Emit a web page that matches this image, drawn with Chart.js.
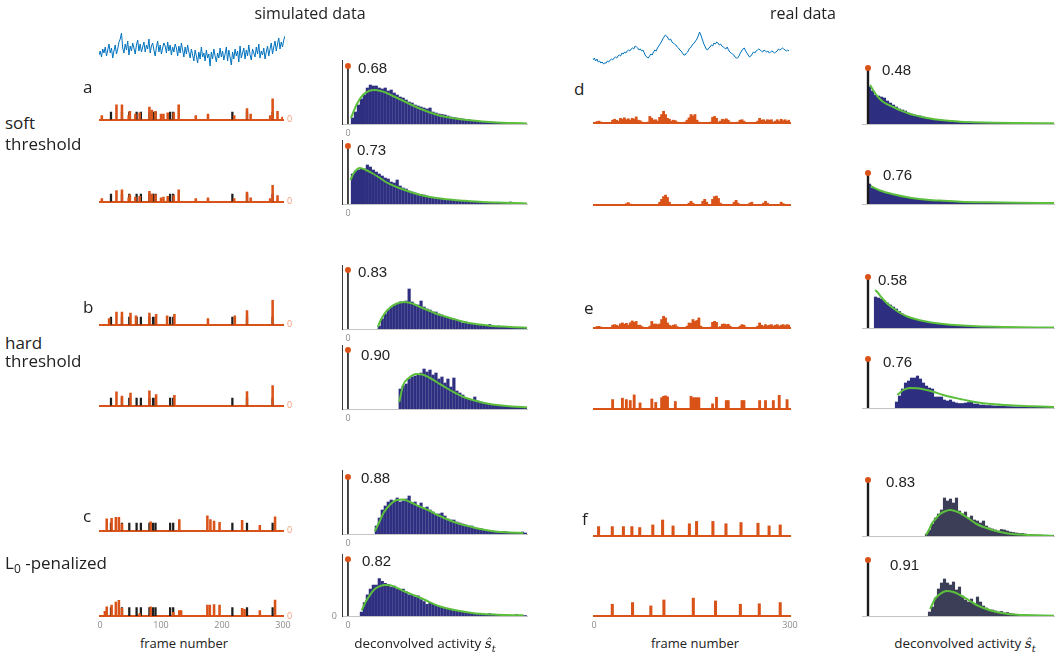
<!DOCTYPE html>
<html>
<head>
<meta charset="utf-8">
<title>Deconvolution: simulated vs real data</title>
<script src="https://cdn.jsdelivr.net/npm/chart.js@4.4.0/dist/chart.umd.min.js"></script>
<style>
  body { margin: 0; background: #fff; }
  #fig { position: relative; width: 1063px; height: 655px; overflow: hidden; font-family: 'Open Sans', sans-serif; color: #222; }
  #fig canvas { position: absolute; }
  .t { position: absolute; white-space: nowrap; }
  .v { font-family: 'Liberation Sans', Arial, sans-serif; }
  .m { font-family: 'DejaVu Serif', serif; font-style: italic; }
</style>
</head>
<body>
<div id="fig"></div>
<script>
// ---- traces (calcium fluorescence) ----
var simBlue = [15,19,13,21,17,23,14,20,26,17,22,12,19,25,16,21,28,31,37,22,17,26,20,29,15,24,19,27,22,16,25,30,19,26,18,23,28,18,25,21,31,17,24,27,20,14,23,29,18,25,16,22,27,24,17,28,19,25,15,23,18,26,22,14,24,17,27,20,13,23,16,25,18,12,21,15,9,20,14,7,18,11,23,13,17,9,20,12,16,4,18,11,21,14,8,17,12,22,13,19,10,16,23,9,20,13,5,18,11,21,14,19,8,24,12,17,22,11,20,14,25,15,10,21,17,13,23,16,26,12,19,15,22,11,18,24,14,21,27,16,23,29,19,26,32,21,28,23,30,34];
var realBlue = [10,12,9,11,8,9,7,8,6,7, 7,9,8,10,11,10,12,13,12,14, 15,14,17,16,18,17,19,20,19,21, 22,21,24,23,22,20,21,19,20,17, 14,13,12,14,16,15,18,20,19,22, 24,26,28,31,33,35,34,32,30,31, 28,27,26,25,23,22,20,19,17,15, 15,17,18,21,22,24,26,27,29,31, 34,38,35,31,27,24,21,20,22,23, 25,24,27,26,28,27,25,26,24,23, 22,21,23,20,18,17,16,15,13,12, 12,14,17,19,21,22,19,17,15,13, 14,16,18,17,19,20,21,20,19,18, 20,19,18,19,17,18,19,18,17,18, 19,21,20,21,22,21,20,19,20,19];

// ---- spike trains: [frame, amplitude] ----
var trueSpikes = [[18,1],[36,1],[48,1],[60,1],[67,1],[81,1],[87,1],[91,1],[115,1],[120,1],[217,1],[241,1],[283,1]];
var simA1 = [[3,0.55],[27,2.0],[36,2.0],[47,0.55],[49,1.1],[58,0.75],[65,0.9],[81,1.7],[85,1.3],[91,1.1],[100,0.75],[104,0.75],[111,0.9],[121,0.9],[129,2.0],[157,0.55],[177,0.75],[220,0.55],[241,1.5],[247,0.75],[279,0.55],[283,2.8],[291,1.1],[299,0.35]];
var simA2 = [[3,0.4],[27,1.5],[36,1.6],[47,0.5],[49,0.9],[58,0.6],[65,0.7],[81,1.4],[85,1.0],[91,0.9],[100,0.5],[104,0.6],[111,0.7],[121,0.8],[129,1.6],[157,0.4],[177,0.5],[220,0.4],[241,1.3],[247,0.5],[279,0.4],[283,2.2],[291,0.8]];
var simB1 = [[15,0.8],[27,1.7],[36,1.7],[50,1.55],[59,1.2],[81,1.55],[92,1.4],[110,1.2],[122,1.4],[177,0.8],[221,1.2],[241,1.9],[283,3.3]];
var simB2 = [[27,1.85],[36,1.3],[50,1.7],[81,2.0],[92,1.5],[122,1.4],[241,1.9],[283,2.7]];
var simC1 = [[11,1.6],[19,1.65],[26,1.8],[31,1.8],[36,0.9],[83,1.2],[130,1.5],[176,2.0],[181,1.5],[187,1.3],[196,1.1],[233,1.4],[262,0.7],[287,1.85]];
var simC2 = [[8,0.55],[11,1.1],[19,1.3],[26,1.65],[31,1.85],[36,0.9],[65,0.3],[83,1.1],[120,0.45],[130,0.65],[133,0.65],[176,1.3],[180,1.3],[187,1.37],[196,1.3],[233,0.9],[237,0.8],[262,0.65],[287,1.9]];

// real data, one value per 3 frames
var realD1 = [0,0.15,0.2,0.1,0,0,0,0,0.05,0.3, 0.4,0.3,0.2,0.5,0.4,0.55,0.35,0.45,0.3,0.5, 0.4,0.65,0.3,0.25,0.1,0,0,0.1,0.7,0.5, 0.3,0.35,0.2,0.6,0.9,1.25,0.9,0.5,0.4,0.2, 0.3,0.25,0.1,0,0,0,0.1,0.3,0.55,0.9, 0.75,0.9,0.3,0.1,0,0,0,0,0,0.1, 0.6,0.7,0.5,0.1,0.2,0.4,0.35,0.45,0.3,0.1, 0,0,0,0.1,0.3,0.35,0.2,0,0,0, 0,0,0.05,0.2,0.5,0.3,0.35,0.2,0.35,0.3, 0.35,0.1,0.2,0.35,0.2,0.4,0.25,0.35,0.2,0.3];
var realD2 = [0,0,0,0,0,0,0,0,0,0, 0,0,0,0,0,0,0.15,0.25,0.1,0, 0,0,0,0,0,0,0,0,0,0, 0,0,0,0.3,0.6,0.9,1.05,0.8,0.3,0, 0,0,0,0,0,0,0,0,0.2,0.4, 0.2,0,0,0,0,0.4,0.6,0.3,0,0, 0.6,0.9,0.95,0.7,0.2,0,0,0,0,0, 0,0.3,0.5,0.2,0,0,0,0,0,0.2, 0.3,0,0,0,0,0,0.2,0.4,0.2,0, 0,0,0,0,0,0.3,0.15,0,0,0];
var realE1 = [0,0.15,0.18,0.1,0,0,0,0,0.05,0.3, 0.36,0.3,0.2,0.45,0.54,0.4,0.5,0.3,0.55,0.75, 0.6,0.7,0.3,0.3,0.15,0,0,0.05,0.2,0.7, 0.4,0.43,0.35,0.43,0.9,1.25,1.07,0.54,0.3,0.2, 0.3,0.36,0.15,0,0,0,0.05,0.2,0.54,0.5, 0.9,0.7,0.8,1.07,0.2,0,0,0,0,0.1, 0.6,0.71,0.6,0.1,0.15,0.4,0.43,0.35,0.4,0.2, 0.05,0,0,0.05,0.2,0.36,0.3,0.1,0,0, 0,0,0.05,0.2,0.54,0.3,0.2,0.36,0.25,0.3, 0.36,0.2,0.3,0.36,0.2,0.3,0.36,0.25,0.36,0.3];
var realE2 = [0,0,0,0,0,0,0,0,0,1.0, 0,0,0,0,1.15,0,1.0,0,0.9,0, 1.5,0,0,0.65,0,0,0,0,0,1.07, 0,0.7,0,0,1.2,1.35,1.4,1.3,0,0, 0,0.8,0,0,0,0,0,0,0,1.35, 1.2,1.2,1.2,1.2,0,0,0,0,0,0, 0.55,0,1.25,0,0,0,0,0.9,0.9,0, 0,0,0,0,0,0.9,0.9,0,0,0, 0,0,0,0,0.9,0,0,0.9,0,0, 0,0.9,0,0,1.45,0,0,0,1.0,0];
var realF1 = [[7,1.0],[28,1.0],[45,1.0],[58,1.0],[70,0.9],[90,1.18],[105,1.7],[121,1.07],[146,1.3],[157,1.55],[182,1.55],[202,1.3],[225,1.43],[251,1.36],[268,1.07],[285,1.18]];
var realF2 = [[28,1.25],[59,1.43],[87,1.07],[107,1.7],[152,1.9],[186,1.6],[224,1.25],[253,1.3],[285,1.43]];

// ---- histograms of deconvolved activity (bin counts) ----
var histA1 = [0,6,12,19,25,29,36,39,38,38, 36,35,36,33,34,31,29,27,26,24, 22,21,19,18,17,16,15,16,12,11, 10,9.5,9,8,7,6.5,6,5.5,5,4, 4.5,3.5,3.2,3,2.5,2.5,2,2,1.8,1.5, 1.5,1.2,1.3,1,1,0.8,0.8,0.7,0.6,0.5];
var histA2 = [0,30,33,34,35,35,39,37,34,32, 30,28,26,25,22,21,24,18,16,15, 13,12,11,10,9.5,9,8,7,6.5,6, 5.5,5,4.5,4.5,4,3.5,3.5,3,3,2.5, 2.5,2.2,2,2,1.8,1.6,1.5,1.4,1.3,1.2, 1.1,1,1,0.9,2,0.8,0.7,0.7,0.6,0.5];
var histB1 = [0,0,0,0,0,0,0,0,0,0, 3,10,15,19,22,24,25,27,27,28, 40,27,24,24,28,22,20,19,17,17, 15,14,12,11,10,10,9,8,6,7, 5,5,4.5,4,4,4,3.5,4.5,3,2.5, 3,2,2,2.5,1.8,1.5,1.5,1.2,1.2,1];
var histB2 = [0,0,0,0,0,0,0,0,0,0, 0,0,0,0,0,0,0,20,23,25, 30,32,33,34,36,40,37,39,34,36, 30,32,26,30,22,31,18,16,14,11, 10,9,12,8,7,6,5,5,4,4, 3.5,3,3,2.5,2,2.5,2,1.5,1.5,1];
var histC1 = [0,0,0,0,0,0,0,0,0,8, 16,24,28,32,34,33,36,32,33,35, 38,31,32,28,31,26,27,24,22,20, 20,21,18,15,14,14,12,11,10,9, 8,8,6,5,5.5,4,3.5,3,3,2.5, 2.5,2,2.5,2,1.5,1.5,1.2,1,2,1];
var histC2 = [0,0,0,0,4,14,22,28,32,32, 39,36,34,33,30,31,28,27,28,25, 22,22,20,21,17,15,12,14,12,11, 10,9,8,7,6,5.5,5,4.5,4,3.5, 3,3,2.5,2.5,2,2,1.8,2.5,1.5,1.5, 1.2,1.2,1,1,0.8,0.8,1.5,0.6,0.5,0.5];
var histD1 = [37,33,29,28,27,26,23,21,19,17, 15,14,13,11,10,9,8.5,8,7,6, 5.5,5,4.5,4,4,3.5,3,3,2.8,2.5, 2.3,2.2,2,1.9,1.8,1.7,1.6,1.5,1.4,1.3, 1.3,1.2,1.1,1.1,1,1,0.9,0.9,0.8,0.8, 0.8,0.7,0.7,0.7,0.6,0.6,0.6,0.5,0.5,0.5, 0.5,0.4];
var histD2 = [20,16,15,14,13,12,11,10,9.5,9, 8,7.5,7,6.5,6,5.5,5,4.8,4.5,4.2, 4,3.8,3.6,3.4,3.2,3,2.9,2.8,2.6,2.5, 2.3,2.2,2.1,2,1.9,1.8,1.8,1.7,1.7,1.6, 1.6,1.5,1.5,1.4,1.4,1.3,1.3,1.2,1.2,1.2, 1.1,1.1,1.1,1,1,1,1,0.9,0.9,0.9, 0.9,0.8];
var histE1 = [0,0,31,30,29,27,25,23,21,19, 16.5,14,12,11,10,9,8,7,6.5,6, 5.5,5,4.5,4,3.8,3.5,3.2,3,2.8,2.6, 2.4,2.2,2,1.9,1.8,1.7,1.6,1.5,1.4,1.3, 1.2,1.2,1.1,1,1,0.9,0.9,0.8,0.8,0.8, 0.7,0.7,0.7,0.6,0.6,0.6,0.5,0.5,0.5,0.5, 0.4,0.4];
var histE2 = [0,0,0,0,0,0,0,0,0,6, 12,19,25,27,30,30,32,29,25,22, 20,19,11,11,11,8,7,8,6,5, 4.5,4.5,5,5.5,6.5,4,4,3,3,2.5, 2.5,2.2,2,2,1.8,1.6,1.5,1.4,1.3,1.2, 1.1,1,1,0.9,0.9,0.8,0.8,0.7,0.7,0.6, 0.6,0.5];
var histF1 = [0,0,0,0,0,0,0,0,0,0, 0,0,0,0,0,0,0,0,0,2, 6,12,18,22,26,38,35,37,33,38, 25,22,24,18,20,16,15,13,15,10, 8,7,6,5,6.5,6,5,4,3.5,3, 2.5,2.5,2,1.5,1.5,1.2,1,1,0.8,0.8, 0.6,0.5];
var histF2 = [0,0,0,0,0,0,0,0,0,0, 0,0,0,0,0,0,0,0,0,0, 4,9,18,27,33,37,33,31,34,26, 29,20,16,14,17,12,19,14,10,8, 6,6,5,4,4.5,3,3.5,2.5,2,1.5, 1.5,1.2,1,1,0.8,0.8,0.7,0.6,0.5,0.5, 0.4,0.4];

// fitted densities: [bin, height]
var fitA1 = [[1,6],[3,20],[5,29],[7,33],[9,34],[11,33],[13,31],[15,28],[18,24],[21,19.5],[24,15.5],[27,12],[30,9],[33,7],[36,5.5],[40,4],[45,2.5],[50,1.5],[55,1],[60,0.6]];
var fitA2 = [[0.8,24],[2,31],[4,36],[6,34],[8,31],[10.7,26],[13,21.5],[16.3,17],[19,14],[22,11],[25,8.5],[27.5,7],[31,5.5],[35,4.2],[38.7,3.3],[45,2],[50,1.4],[55,0.9],[60,0.5]];
var fitB1 = [[10,2],[11,9],[12.4,16],[14,21],[16,25],[19,27],[22,25],[24.2,22],[27,18.5],[29.8,15],[32.5,12.5],[35.4,10],[38,7.8],[41,5.7],[44,4.4],[47.6,3.3],[52,2.4],[56,1.8],[60,1.3]];
var fitB2 = [[17.2,7],[18.5,24],[20,30],[23,35],[25,34.5],[27.5,31],[30,26.5],[33,21],[36,16],[38.7,12],[41.5,9.3],[44.3,7],[47,5.3],[50,4],[55,2.6],[60,1.7]];
var fitC1 = [[9,2.7],[10.5,12],[11.9,21],[14,29],[16.3,34],[18.5,34.5],[20.8,32],[24,27.5],[27.5,23],[30,19],[33,15],[36,11.5],[38.7,9],[41.5,7],[44.3,5],[47,3.5],[49.9,2.3],[54,1.6],[58.8,1]];
var fitC2 = [[4.6,5.7],[6,15],[7.4,22],[9,28],[10.7,31],[12.5,32.3],[14.1,32],[16.3,29.5],[18.6,26],[21.4,22.5],[24.2,19],[27,15],[29.8,11],[33,8],[36.5,5.7],[40,4],[44.3,2.3],[50,1.4],[58.8,0.7]];
var fitD1 = [[0.7,39],[2.3,31],[3.5,26.5],[5.1,22],[6.7,19.3],[8.4,17],[11,13.3],[14,10],[17,7.8],[19.6,6],[22,4.8],[25.1,3.7],[28,3],[30.7,2.3],[35,1.8],[41.8,1.3],[50,1],[62,0.7]];
var fitD2 = [[0.9,18],[4,13.5],[8.4,9.7],[14,6.3],[19.6,4.3],[25,3.2],[30.7,2.3],[40,1.7],[50,1.3],[62,1]];
var fitE1 = [[2.4,38],[3.1,36],[4.5,30.5],[6.2,25],[8.3,20],[10.7,15],[13.5,11],[17.3,7.7],[21,5.6],[25.1,4],[30,2.7],[36.2,1.7],[45,1],[62,0.4]];
var fitE2 = [[9.8,13],[11.8,18],[14,20],[16.5,19.8],[19.6,18],[22,16],[25.1,13],[28,10.8],[30.7,9],[33.5,7.2],[36.2,5.7],[41,4],[47.3,2.7],[55,1.7],[62,1]];
var fitF1 = [[19.3,0.7],[20.3,6],[21.2,12],[22.5,17],[24,22],[25.5,24.5],[27.3,26],[29,25],[30.7,23],[33.5,17.5],[36.2,12],[39,8.5],[41.8,5.7],[44.5,3.8],[47.3,2.3],[52,1.3],[61.8,0.3]];
var fitF2 = [[20.7,7],[21.5,12],[22.3,17],[24,22],[26.2,25],[28.5,24],[30.7,21],[33.5,16],[36.2,11],[39,7.5],[41.8,4.7],[44.5,3],[47.3,1.7],[52,1],[62,0.3]];

// zero-bin mass (stem height) and its label
var stemHeights = { a1: 58, a2: 58, b1: 59, b2: 59, c1: 57, c2: 59, d1: 56, d2: 31, e1: 51, e2: 49, f1: 56, f2: 56 };
var zeroFractions = { a1: '0.68', a2: '0.73', b1: '0.83', b2: '0.90', c1: '0.88', c2: '0.82', d1: '0.48', d2: '0.76', e1: '0.58', e2: '0.76', f1: '0.83', f2: '0.91' };

var ORANGE = '#d95319', BLUE = '#0072bd', GREEN = '#5cbf3c', NAVY = '#2e2f80', SLATE = '#3b3e56';

Chart.defaults.font.family = "'Open Sans', sans-serif";
Chart.defaults.animation = false;
Chart.defaults.plugins.legend.display = false;
Chart.defaults.plugins.tooltip.enabled = false;

var fig = document.getElementById('fig');

function label(html, x, cy, size, cls, center, color) {
  var d = document.createElement('div');
  d.className = 't ' + (cls || '');
  d.innerHTML = html;
  d.style.left = x + 'px';
  d.style.top = (cy - size * 0.62) + 'px';
  d.style.fontSize = size + 'px';
  d.style.lineHeight = Math.round(size * 1.2) + 'px';
  if (center) d.style.transform = 'translateX(-50%)';
  if (color) d.style.color = color;
  fig.appendChild(d);
}

// linear axis of fixed size (o.size px); its line sits on the plot edge
function axis(min, max, o) {
  o = o || {};
  return {
    type: 'linear', min: min, max: max, position: o.position, offset: false,
    grid: { display: false, drawTicks: false },
    border: { display: !!o.line, color: o.line || '#000', width: o.lineWidth || 1 },
    ticks: { display: !!o.ticks, color: o.tickColor || '#8a8a8a', font: { size: 9 }, padding: o.tickPad || 3 },
    afterBuildTicks: function (s) { if (o.ticks) s.ticks = o.ticks.map(function (v) { return { value: v }; }); },
    afterFit: function (s) { if (s.isHorizontal()) s.height = o.size || 0; else s.width = o.size || 0; }
  };
}

// plot area (x, y, w, h) in page pixels, pad = [top, right, bottom, left],
// axisRoom = part of pad that the axes themselves take
function place(x, y, w, h, pad, axisRoom, config) {
  var c = document.createElement('canvas');
  var cw = w + pad[1] + pad[3], ch = h + pad[0] + pad[2];
  c.width = cw; c.height = ch;
  c.style.left = (x - pad[3]) + 'px';
  c.style.top = (y - pad[0]) + 'px';
  c.style.width = cw + 'px';
  c.style.height = ch + 'px';
  fig.appendChild(c);
  config.options.responsive = false;
  config.options.devicePixelRatio = 1;
  config.options.layout = { padding: { top: pad[0] - axisRoom[0], right: pad[1] - axisRoom[1], bottom: pad[2] - axisRoom[2], left: pad[3] - axisRoom[3] } };
  return new Chart(c, config);
}

function pts(pairs) { return pairs.map(function (p) { return { x: p[0], y: p[1] }; }); }
function perThree(arr) { return arr.map(function (v, i) { return [3 * i + 1.5, v]; }).filter(function (p) { return p[1] > 0; }); }
function bins(arr) { return arr.map(function (v, i) { return [i + 0.5, v]; }).filter(function (p) { return p[1] > 0; }); }

function trace(x, w, values) {
  place(x, 30, w, 40, [4, 4, 4, 4], [0, 0, 0, 0], {
    type: 'line',
    data: { datasets: [{ data: values.map(function (v, i) { return { x: i, y: v }; }), borderColor: BLUE, borderWidth: 1, pointRadius: 0, tension: 0 }] },
    options: { scales: { x: axis(0, values.length - 1), y: axis(0, 40) } }
  });
}

function spikes(x, w, base, est, thick, truth, xticks, zeroRight) {
  var ds = [{ data: pts(est), backgroundColor: ORANGE, barThickness: thick, grouped: false, order: 0 }];
  if (truth) ds.push({ data: pts(truth), backgroundColor: '#1e1e1e', barThickness: 1.6, grouped: false, order: 1 });
  var xRoom = xticks ? 16 : 0, yRoom = zeroRight ? 12 : 0;
  place(x, base - 32, w, 32, [6, 14, xticks ? 18 : 6, 8], [0, yRoom, xRoom, 0], {
    type: 'bar',
    data: { datasets: ds },
    options: {
      scales: {
        x: axis(0, 300, { line: ORANGE, lineWidth: 2, ticks: xticks, tickPad: 4, size: xRoom }),
        y: axis(0, 3.4, { position: 'right', ticks: zeroRight ? [0] : null, tickColor: '#f19a75', tickPad: 4, size: yRoom })
      }
    }
  });
}

function hist(x, w, umax, base, counts, fit, key, o) {
  var stem = stemHeights[key];
  var xRoom = o.xzero ? 14 : 0, yRoom = o.yzero ? 14 : 0;
  place(x, base - 64, w, 64, [8, 4, o.xzero ? 16 : 6, o.yzero ? 16 : 4], [0, 0, xRoom, yRoom], {
    type: 'bar',
    data: {
      datasets: [
        { type: 'line', data: [{ x: 0, y: 0 }, { x: 0, y: stem }], borderColor: '#1a1a1a', borderWidth: o.stemWidth,
          pointRadius: [0, 3], pointBackgroundColor: ORANGE, pointBorderWidth: 0, clip: false, order: 0 },
        { type: 'line', data: pts(fit), borderColor: GREEN, borderWidth: 2, pointRadius: 0,
          cubicInterpolationMode: 'monotone', order: 1 },
        { data: pts(bins(counts)), backgroundColor: o.color, barThickness: 2.5, grouped: false, order: 2 }
      ]
    },
    options: {
      scales: {
        x: axis(-2, umax, { line: '#c4c4c4', ticks: o.xzero ? [0] : null, tickPad: 4, size: xRoom }),
        y: axis(0, 64, { line: o.yline ? '#3a3a3a' : null, ticks: o.yzero ? [0] : null, tickPad: 5, size: yRoom })
      }
    }
  });
  label(zeroFractions[key], o.lx, o.ly, 15, 'v');
}

// ---- left block: simulated data ----
trace(99, 186, simBlue);
spikes(100, 183, 123, simA1, 1.9, trueSpikes, null, true);
spikes(100, 183, 205, simA2, 1.9, trueSpikes, null, true);
spikes(100, 183, 328, simB1, 1.9, trueSpikes, null, true);
spikes(100, 183, 409, simB2, 1.9, trueSpikes, null, true);
spikes(100, 183, 534, simC1, 1.9, trueSpikes, null, true);
spikes(100, 183, 616, simC2, 1.9, trueSpikes, [0, 100, 200, 300], true);

var simH = { color: NAVY, stemWidth: 1.6, yline: true, xzero: true };
hist(342, 185, 60, 124, histA1, fitA1, 'a1', Object.assign({ lx: 358, ly: 68 }, simH));
hist(342, 185, 60, 204, histA2, fitA2, 'a2', Object.assign({ lx: 357, ly: 150 }, simH));
hist(342, 185, 60, 329, histB1, fitB1, 'b1', Object.assign({ lx: 358, ly: 272 }, simH));
hist(342, 185, 60, 409, histB2, fitB2, 'b2', Object.assign({ lx: 361, ly: 355 }, simH));
hist(342, 185, 60, 534, histC1, fitC1, 'c1', Object.assign({ lx: 361, ly: 478 }, simH));
hist(342, 185, 60, 616, histC2, fitC2, 'c2', Object.assign({ lx: 362, ly: 561, yzero: true }, simH));

// ---- right block: real data ----
trace(593, 196, realBlue);
spikes(594, 196, 123, perThree(realD1), 2.2, null, null, false);
spikes(594, 196, 205, perThree(realD2), 2.2, null, null, false);
spikes(594, 196, 328, perThree(realE1), 2.2, null, null, false);
spikes(594, 196, 409, perThree(realE2), 2.2, null, null, false);
spikes(594, 196, 536, realF1, 2.4, null, null, false);
spikes(594, 196, 616, realF2, 2.4, null, [0, 300], false);

var realH = { color: NAVY, stemWidth: 2.4, yline: false, xzero: false };
hist(862, 192, 62, 124, histD1, fitD1, 'd1', Object.assign({ lx: 882, ly: 70 }, realH));
hist(862, 192, 62, 204, histD2, fitD2, 'd2', Object.assign({ lx: 883, ly: 175 }, realH));
hist(862, 192, 62, 328, histE1, fitE1, 'e1', Object.assign({ lx: 878, ly: 280 }, realH));
hist(862, 192, 62, 408, histE2, fitE2, 'e2', Object.assign({ lx: 883, ly: 362 }, realH));
hist(862, 192, 62, 536, histF1, fitF1, 'f1', Object.assign({ lx: 886, ly: 482 }, realH, { color: SLATE }));
hist(862, 192, 62, 616, histF2, fitF2, 'f2', Object.assign({ lx: 890, ly: 565 }, realH, { color: SLATE }));

// ---- text ----
label('simulated data', 310, 14, 16, '', true);
label('real data', 803, 14, 16, '', true);
label('a', 83, 88, 17); label('b', 83, 308, 17); label('c', 83, 517, 17);
label('d', 574, 90, 17); label('e', 584, 309, 17); label('f', 582, 520, 17);
label('soft', 5, 124, 17); label('threshold', 5, 145, 17);
label('hard', 5, 344, 17); label('threshold', 5, 362, 17);
label('L<sub style="font-size:12px">0</sub> -penalized', 5, 564, 17);
label('frame number', 184, 643, 13, '', true);
label('frame number', 695, 643, 13, '', true);
label('deconvolved activity <span class="m">ŝ<sub style="font-size:10px">t</sub></span>', 425, 643, 13.5, '', true);
label('deconvolved activity <span class="m">ŝ<sub style="font-size:10px">t</sub></span>', 965, 643, 13.5, '', true);
</script>
</body>
</html>
